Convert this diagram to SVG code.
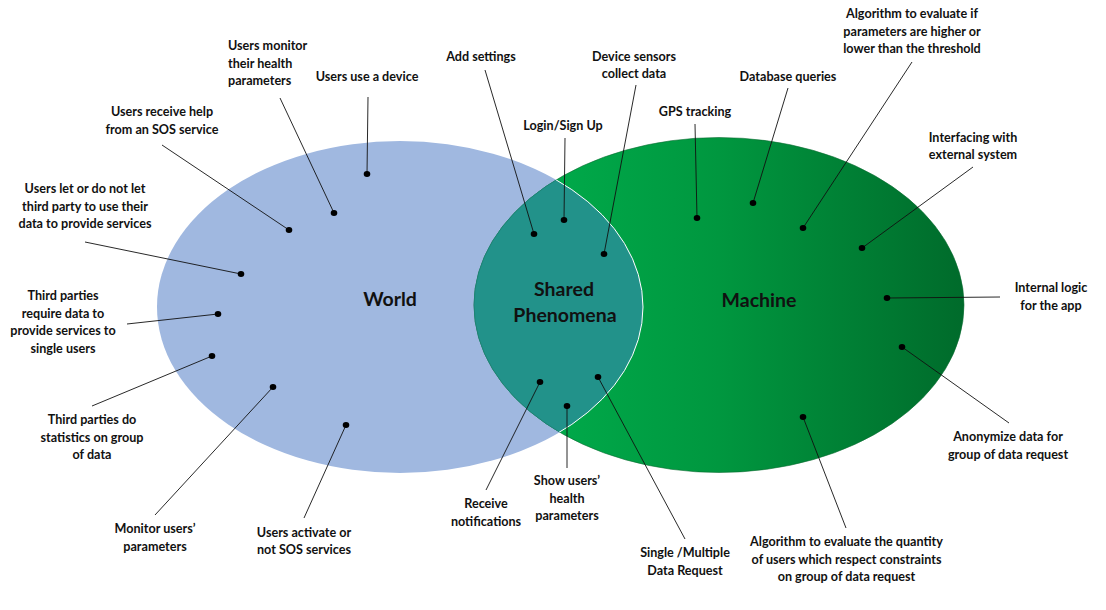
<svg xmlns="http://www.w3.org/2000/svg" width="1106" height="610" viewBox="0 0 1106 610">
<style>
  .lbl { font-family: Lato, "Liberation Sans", sans-serif; font-weight: 700; font-size: 12.6px; fill: #111; text-anchor: middle; }
  .big { font-family: Lato, "Liberation Sans", sans-serif; font-weight: 700; font-size: 19.5px; fill: #111; text-anchor: middle; }
  .ln { stroke: #111; stroke-width: 0.9; fill: none; }
  .dot { fill: #000; }
</style>
<defs>
  <linearGradient id="mg" x1="0" y1="0" x2="1" y2="0">
    <stop offset="0" stop-color="#00B24F"/>
    <stop offset="0.5" stop-color="#00973F"/>
    <stop offset="1" stop-color="#006B2B"/>
  </linearGradient>
  <clipPath id="clipWorld"><ellipse cx="400" cy="307" rx="243" ry="166"/></clipPath>
  <clipPath id="clipMachine"><ellipse cx="719" cy="305" rx="245" ry="167.5"/></clipPath>
</defs>
<rect width="1106" height="610" fill="#fff"/>

<g id="world">
  <ellipse cx="400" cy="307" rx="243" ry="166" fill="#A0B8E0"/>
  <text class="big" x="390" y="306">World</text>
</g>
<g id="machine">
  <ellipse cx="719" cy="305" rx="245" ry="167.5" fill="url(#mg)" stroke="#0A6B30" stroke-width="0.6"/>
  <text class="big" x="759" y="307">Machine</text>
</g>
<g id="shared">
  <ellipse cx="719" cy="305" rx="245" ry="167.5" fill="#22928A" stroke="#1E7A72" stroke-width="0.6" clip-path="url(#clipWorld)"/>
  <ellipse cx="400" cy="307" rx="243" ry="166" fill="none" stroke="#fff" stroke-width="1" clip-path="url(#clipMachine)"/>
  <text class="big" x="564" y="296">Shared</text>
  <text class="big" x="565" y="322">Phenomena</text>
</g>

<g id="connectors">
  <line class="ln" x1="368" y1="97" x2="367" y2="174"/>
  <line class="ln" x1="280" y1="98" x2="334" y2="213"/>
  <line class="ln" x1="162" y1="145" x2="289" y2="230"/>
  <line class="ln" x1="85" y1="242" x2="241" y2="274"/>
  <line class="ln" x1="127" y1="324" x2="218" y2="314"/>
  <line class="ln" x1="92" y1="406" x2="212" y2="356"/>
  <line class="ln" x1="155" y1="515" x2="273" y2="387"/>
  <line class="ln" x1="304" y1="518" x2="346" y2="425"/>
  <line class="ln" x1="485" y1="70" x2="534" y2="234"/>
  <line class="ln" x1="565" y1="138" x2="564" y2="220"/>
  <line class="ln" x1="636" y1="85" x2="604" y2="254"/>
  <line class="ln" x1="486" y1="490" x2="540" y2="382"/>
  <line class="ln" x1="567" y1="468" x2="567" y2="406"/>
  <line class="ln" x1="685" y1="539" x2="598" y2="377"/>
  <line class="ln" x1="695" y1="124" x2="697" y2="218"/>
  <line class="ln" x1="788" y1="88" x2="753" y2="203"/>
  <line class="ln" x1="912" y1="62" x2="803" y2="228"/>
  <line class="ln" x1="973" y1="167" x2="862" y2="248"/>
  <line class="ln" x1="1000" y1="297" x2="887" y2="298"/>
  <line class="ln" x1="1009" y1="423" x2="902" y2="347"/>
  <line class="ln" x1="846" y1="528" x2="803" y2="417"/>
</g>

<g id="n-use-device">
  <ellipse class="dot" cx="367" cy="174" rx="3.3" ry="3"/>
  <text class="lbl" x="367" y="81">Users use a device</text>
</g>
<g id="n-monitor-health">
  <ellipse class="dot" cx="334" cy="213" rx="3.3" ry="3"/>
  <text class="lbl" style="text-anchor:start" x="228" y="50">Users monitor</text>
  <text class="lbl" style="text-anchor:start" x="228" y="67.5">their health</text>
  <text class="lbl" style="text-anchor:start" x="228" y="85">parameters</text>
</g>
<g id="n-sos-help">
  <ellipse class="dot" cx="289" cy="230" rx="3.3" ry="3"/>
  <text class="lbl" x="162" y="116">Users receive help</text>
  <text class="lbl" x="162" y="133.5">from an SOS service</text>
</g>
<g id="n-third-party-consent">
  <ellipse class="dot" cx="241" cy="274" rx="3.3" ry="3"/>
  <text class="lbl" x="85" y="193">Users let or do not let</text>
  <text class="lbl" x="85" y="210.5">third party to use their</text>
  <text class="lbl" x="85" y="228">data to provide services</text>
</g>
<g id="n-third-party-require">
  <ellipse class="dot" cx="218" cy="314" rx="3.3" ry="3"/>
  <text class="lbl" x="63" y="300">Third parties</text>
  <text class="lbl" x="63" y="317.5">require data to</text>
  <text class="lbl" x="63" y="335">provide services to</text>
  <text class="lbl" x="63" y="352.5">single users</text>
</g>
<g id="n-third-party-stats">
  <ellipse class="dot" cx="212" cy="356" rx="3.3" ry="3"/>
  <text class="lbl" x="92" y="424">Third parties do</text>
  <text class="lbl" x="92" y="441.5">statistics on group</text>
  <text class="lbl" x="92" y="459">of data</text>
</g>
<g id="n-monitor-users">
  <ellipse class="dot" cx="273" cy="387" rx="3.3" ry="3"/>
  <text class="lbl" x="155" y="533">Monitor users’</text>
  <text class="lbl" x="155" y="550.5">parameters</text>
</g>
<g id="n-activate-sos">
  <ellipse class="dot" cx="346" cy="425" rx="3.3" ry="3"/>
  <text class="lbl" x="304" y="536.5">Users activate or</text>
  <text class="lbl" x="304" y="554">not SOS services</text>
</g>
<g id="n-add-settings">
  <ellipse class="dot" cx="534" cy="234" rx="3.3" ry="3"/>
  <text class="lbl" x="481" y="60.5">Add settings</text>
</g>
<g id="n-login">
  <ellipse class="dot" cx="564" cy="220" rx="3.3" ry="3"/>
  <text class="lbl" x="563" y="130">Login/Sign Up</text>
</g>
<g id="n-sensors">
  <ellipse class="dot" cx="604" cy="254" rx="3.3" ry="3"/>
  <text class="lbl" x="634" y="60.5">Device sensors</text>
  <text class="lbl" x="634" y="78">collect data</text>
</g>
<g id="n-notifications">
  <ellipse class="dot" cx="540" cy="382" rx="3.3" ry="3"/>
  <text class="lbl" x="486" y="508">Receive</text>
  <text class="lbl" x="486" y="525.5">notifications</text>
</g>
<g id="n-show-health">
  <ellipse class="dot" cx="567" cy="406" rx="3.3" ry="3"/>
  <text class="lbl" x="567" y="485">Show users’</text>
  <text class="lbl" x="567" y="502.5">health</text>
  <text class="lbl" x="567" y="520">parameters</text>
</g>
<g id="n-data-request">
  <ellipse class="dot" cx="598" cy="377" rx="3.3" ry="3"/>
  <text class="lbl" x="685" y="557">Single /Multiple</text>
  <text class="lbl" x="685" y="574.5">Data Request</text>
</g>
<g id="n-gps">
  <ellipse class="dot" cx="697" cy="218" rx="3.3" ry="3"/>
  <text class="lbl" x="695" y="116">GPS tracking</text>
</g>
<g id="n-db">
  <ellipse class="dot" cx="753" cy="203" rx="3.3" ry="3"/>
  <text class="lbl" x="788" y="80.5">Database queries</text>
</g>
<g id="n-threshold">
  <ellipse class="dot" cx="803" cy="228" rx="3.3" ry="3"/>
  <text class="lbl" x="912" y="18">Algorithm to evaluate if</text>
  <text class="lbl" x="912" y="35.5">parameters are higher or</text>
  <text class="lbl" x="912" y="53">lower than the threshold</text>
</g>
<g id="n-external">
  <ellipse class="dot" cx="862" cy="248" rx="3.3" ry="3"/>
  <text class="lbl" x="973" y="141.5">Interfacing with</text>
  <text class="lbl" x="973" y="159">external system</text>
</g>
<g id="n-internal">
  <ellipse class="dot" cx="887" cy="298" rx="3.3" ry="3"/>
  <text class="lbl" x="1051" y="292">Internal logic</text>
  <text class="lbl" x="1051" y="309.5">for the app</text>
</g>
<g id="n-anonymize">
  <ellipse class="dot" cx="902" cy="347" rx="3.3" ry="3"/>
  <text class="lbl" x="1008" y="441">Anonymize data for</text>
  <text class="lbl" x="1008" y="458.5">group of data request</text>
</g>
<g id="n-quantity">
  <ellipse class="dot" cx="803" cy="417" rx="3.3" ry="3"/>
  <text class="lbl" x="846.5" y="546">Algorithm to evaluate the quantity</text>
  <text class="lbl" x="846.5" y="563.5">of users which respect constraints</text>
  <text class="lbl" x="846.5" y="581">on group of data request</text>
</g>
</svg>
